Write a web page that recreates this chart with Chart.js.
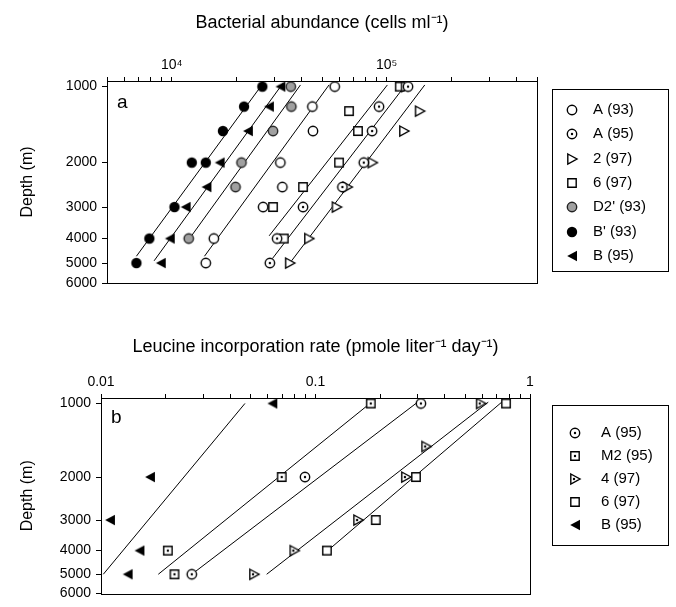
<!DOCTYPE html>
<html>
<head>
<meta charset="utf-8">
<script src="https://cdn.jsdelivr.net/npm/chart.js@4"></script>
<style>
  body { margin: 0; background: #fff; }
  .panel { position: absolute; left: 0; }
</style>
</head>
<body>
<canvas id="chart-a" class="panel" width="676" height="300" style="top:0"></canvas>
<canvas id="chart-b" class="panel" width="676" height="307" style="top:300px"></canvas>
<script>
// Panel a: bacterial abundance (cells ml-1) vs depth (m)
const depthTicks = [1000, 2000, 3000, 4000, 5000, 6000];
const abundTicks = [5000, 6000, 7000, 8000, 9000, 10000, 20000, 30000, 40000, 50000, 60000, 70000, 80000, 90000, 100000, 200000, 300000, 400000, 500000];
const abundLabels = { 10000: '10⁴', 100000: '10⁵' };

const depthA93 = [1000, 1200, 1500, 2000, 2500, 3000, 4000, 5000];
const abundA93 = [57300, 45100, 45400, 32000, 32700, 26600, 15700, 14400];
const depthA95 = [1000, 1200, 1500, 2000, 2500, 3000, 4000, 5000];
const abundA95 = [125600, 92100, 85500, 78200, 62200, 40800, 30900, 28600];
const depthS2 = [1000, 1250, 1500, 2000, 2500, 3000, 4000, 5000];
const abundS2 = [122500, 142300, 120300, 85800, 65600, 58400, 43500, 35400];
const depthS6 = [1000, 1250, 1500, 2000, 2500, 3000, 4000];
const abundS6 = [115000, 66800, 73500, 60000, 40800, 29600, 33200];
const depthD2 = [1000, 1200, 1500, 2000, 2500, 4000];
const abundD2 = [35800, 36000, 29600, 21100, 19800, 12000];
const depthBp93 = [1000, 1200, 1500, 2000, 2000, 3000, 4000, 5000];
const abundBp93 = [26400, 21700, 17300, 12400, 14400, 10300, 7870, 6850];
const depthB95 = [1000, 1200, 1500, 2000, 2500, 3000, 4000, 5000];
const abundB95 = [32000, 28300, 22600, 16700, 14500, 11600, 9790, 8890];

// regression lines, [abundance, depth] end points
const fitBp93 = [[6850, 4700], [26600, 970]];
const fitB95 = [[8280, 4900], [32900, 970]];
const fitD2 = [[12100, 4000], [39700, 985]];
const fitA93 = [[14200, 4700], [53900, 985]];
const fitS6 = [[28400, 3900], [100700, 985]];
const fitA95 = [[29400, 4800], [122400, 985]];
const fitS2 = [[36100, 4900], [150300, 985]];

// Panel b: leucine incorporation (pmole liter-1 day-1) vs depth (m)
const leuTicks = [0.01, 0.02, 0.03, 0.04, 0.05, 0.06, 0.07, 0.08, 0.09, 0.1, 0.2, 0.3, 0.4, 0.5, 0.6, 0.7, 0.8, 0.9, 1];
const leuLabels = { 0.01: '0.01', 0.1: '0.1', 1: '1' };

const depthLeuA95 = [1000, 2000, 5000];
const leuA95 = [0.310, 0.0893, 0.0265];
const depthLeuM2 = [1000, 2000, 4000, 5000];
const leuM2 = [0.181, 0.0696, 0.0205, 0.0220];
const depthLeuS4 = [1000, 1500, 2000, 3000, 4000, 5000];
const leuS4 = [0.589, 0.328, 0.264, 0.158, 0.0797, 0.0517];
const depthLeuS6 = [1000, 2000, 3000, 4000];
const leuS6 = [0.773, 0.294, 0.191, 0.113];
const depthLeuB95 = [1000, 2000, 3000, 4000, 5000];
const leuB95 = [0.0629, 0.0169, 0.0110, 0.0151, 0.0133];

const fitLeuB95 = [[0.01025, 5000], [0.0469, 1000]];
const fitLeuM2 = [[0.0185, 5000], [0.1795, 1000]];
const fitLeuA95 = [[0.0265, 5000], [0.294, 1000]];
const fitLeuS4 = [[0.0592, 5000], [0.639, 988]];
const fitLeuS6 = [[0.116, 3950], [0.738, 988]];

const FONT = "'Liberation Sans', Arial, sans-serif";

// Marker glyphs drawn on small canvases
function marker(kind) {
    const c = document.createElement('canvas');
    c.width = 14; c.height = 14;
    const g = c.getContext('2d');
    const k = kind.toLowerCase();
    g.lineWidth = 1.4;
    g.strokeStyle = '#000';
    g.fillStyle = '#fff';
    const dot = (x, y) => { g.fillStyle = '#000'; g.beginPath(); g.arc(x, y, 1.2, 0, Math.PI * 2); g.fill(); };
    g.beginPath();
    if (k.includes('circle')) {
        g.arc(7, 7, k === 'filledcircle' ? 5.2 : 4.7, 0, Math.PI * 2);
    } else if (k.includes('square')) {
        g.rect(2.8, 2.8, 8.4, 8.4);
    } else if (k.includes('triright')) {
        g.moveTo(2.8, 2); g.lineTo(12, 7); g.lineTo(2.8, 12); g.closePath();
    } else if (k.includes('trileft')) {
        g.moveTo(12, 1.8); g.lineTo(2.2, 7); g.lineTo(12, 12.2); g.closePath();
    }
    if (k === 'filledcircle' || k === 'trileft') {
        g.fillStyle = '#000'; g.fill();
    } else if (k === 'hatchcircle') {
        g.fillStyle = '#a0a0a0'; g.fill(); g.strokeStyle = '#222'; g.stroke();
    } else {
        g.fill(); g.stroke();
    }
    if (k === 'dotcircle' || k === 'dotsquare') dot(7, 7);
    if (k === 'dottriright') dot(6, 7);
    return c;
}

function points(xs, ys) {
    return xs.map((x, i) => ({ x: x, y: ys[i] }));
}

function series(label, xs, ys, kind) {
    return {
        label: label,
        data: points(xs, ys),
        pointStyle: marker(kind),
        pointRadius: 6,
        showLine: false
    };
}

function fit(ends) {
    return {
        label: '',
        isFit: true,
        data: ends.map(p => ({ x: p[0], y: p[1] })),
        showLine: true,
        borderColor: '#000',
        borderWidth: 1,
        pointRadius: 0
    };
}

// Framed legend, plot border and panel letter
const boxLegend = {
    id: 'boxLegend',
    afterDraw(chart, args, opts) {
        const ctx = chart.ctx;
        const area = chart.chartArea;
        ctx.save();
        ctx.strokeStyle = '#000';
        ctx.lineWidth = 1;
        ctx.strokeRect(Math.round(area.left) + 0.5, Math.round(area.top) + 0.5,
            Math.round(area.right - area.left), Math.round(area.bottom - area.top));
        ctx.strokeRect(opts.left + 0.5, opts.top + 0.5, opts.width, opts.height);

        ctx.fillStyle = '#000';
        ctx.textBaseline = 'middle';
        ctx.font = '15px ' + FONT;
        chart.data.datasets.filter(d => !d.isFit).forEach((d, i) => {
            const y = opts.firstY + i * opts.step;
            const img = d.pointStyle;
            ctx.drawImage(img, Math.round(opts.markerX - img.width / 2), Math.round(y - img.height / 2));
            ctx.fillText(d.label, opts.textX, y);
        });

        ctx.font = '19px ' + FONT;
        ctx.fillText(opts.letter, opts.letterX, opts.letterY);
        ctx.restore();
    }
};

function makeChart(id, cfg) {
    const tickFont = { family: FONT, size: 14 };
    const titleFont = { family: FONT, size: 18 };
    return new Chart(document.getElementById(id), {
        type: 'scatter',
        data: { datasets: cfg.datasets },
        plugins: [boxLegend],
        options: {
            responsive: false,
            animation: false,
            devicePixelRatio: 1,
            layout: { padding: cfg.padding },
            plugins: {
                legend: { display: false },
                tooltip: { enabled: false },
                boxLegend: cfg.legend
            },
            scales: {
                x: {
                    type: 'logarithmic',
                    position: 'top',
                    min: cfg.xMin,
                    max: cfg.xMax,
                    afterBuildTicks: s => { s.ticks = cfg.xTicks.map(v => ({ value: v })); },
                    afterFit: s => { s.height = cfg.xHeight; },
                    ticks: {
                        autoSkip: false,
                        maxRotation: 0,
                        padding: 3,
                        color: '#000',
                        font: tickFont,
                        callback: v => cfg.xLabels[v] || ''
                    },
                    grid: { drawOnChartArea: false, tickLength: 4, color: '#000' },
                    border: { color: '#000', width: 1 },
                    title: {
                        display: true,
                        text: cfg.xTitle,
                        color: '#000',
                        font: titleFont,
                        padding: { top: cfg.xTitlePad, bottom: 0 }
                    }
                },
                y: {
                    type: 'logarithmic',
                    reverse: true,
                    min: 950,
                    max: 6000,
                    afterBuildTicks: s => { s.ticks = depthTicks.map(v => ({ value: v })); },
                    afterFit: s => { s.width = cfg.yWidth; },
                    ticks: {
                        autoSkip: false,
                        padding: 5,
                        color: '#000',
                        font: tickFont,
                        callback: v => String(v)
                    },
                    grid: { drawOnChartArea: false, tickLength: 5, color: '#000' },
                    border: { color: '#000', width: 1 },
                    title: {
                        display: true,
                        text: 'Depth (m)',
                        color: '#000',
                        font: { family: FONT, size: 16 },
                        padding: { top: 18, bottom: 0 }
                    }
                }
            }
        }
    });
}

makeChart('chart-a', {
    padding: { left: 0, top: 0, right: 139, bottom: 17 },
    xMin: 5000, xMax: 500000,
    xTicks: abundTicks, xLabels: abundLabels,
    xHeight: 81, yWidth: 107, xTitlePad: 12,
    xTitle: 'Bacterial abundance (cells ml⁻¹)',
    legend: { left: 552, top: 89, width: 116, height: 182, firstY: 110, step: 24.3, markerX: 572, textX: 593,
              letter: 'a', letterX: 117, letterY: 103 },
    datasets: [
        series('A (93)', abundA93, depthA93, 'openCircle'),
        series('A (95)', abundA95, depthA95, 'dotCircle'),
        series('2 (97)', abundS2, depthS2, 'triRight'),
        series('6 (97)', abundS6, depthS6, 'square'),
        series("D2' (93)", abundD2, depthD2, 'hatchCircle'),
        series("B' (93)", abundBp93, depthBp93, 'filledCircle'),
        series('B (95)', abundB95, depthB95, 'triLeft'),
        fit(fitBp93), fit(fitB95), fit(fitD2), fit(fitA93), fit(fitS6), fit(fitA95), fit(fitS2)
    ]
});

makeChart('chart-b', {
    padding: { left: 0, top: 0, right: 146, bottom: 8 },
    xMin: 0.01, xMax: 1,
    xTicks: leuTicks, xLabels: leuLabels,
    xHeight: 98, yWidth: 101, xTitlePad: 36,
    xTitle: 'Leucine incorporation rate (pmole liter⁻¹ day⁻¹)',
    legend: { left: 552, top: 105, width: 116, height: 140, firstY: 133, step: 23, markerX: 575, textX: 601,
              letter: 'b', letterX: 111, letterY: 118 },
    datasets: [
        series('A (95)', leuA95, depthLeuA95, 'dotCircle'),
        series('M2 (95)', leuM2, depthLeuM2, 'dotSquare'),
        series('4 (97)', leuS4, depthLeuS4, 'dotTriRight'),
        series('6 (97)', leuS6, depthLeuS6, 'square'),
        series('B (95)', leuB95, depthLeuB95, 'triLeft'),
        fit(fitLeuB95), fit(fitLeuM2), fit(fitLeuA95), fit(fitLeuS4), fit(fitLeuS6)
    ]
});
</script>
</body>
</html>
